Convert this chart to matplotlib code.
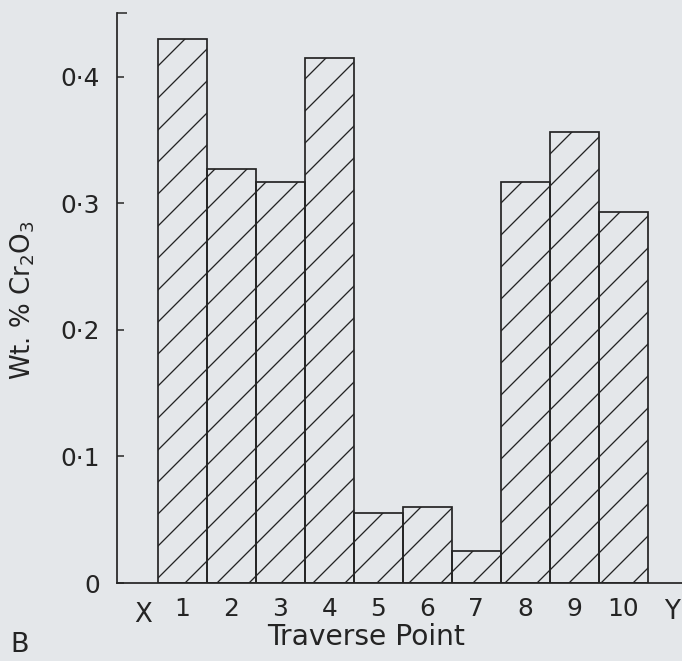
import matplotlib
matplotlib.use("Agg")
import matplotlib.pyplot as plt
from matplotlib.ticker import FixedLocator

# values (traverse X -> Y)
points = [1, 2, 3, 4, 5, 6, 7, 8, 9, 10]
cr2o3 = [0.430, 0.327, 0.317, 0.415, 0.055, 0.060, 0.025, 0.317, 0.356, 0.293]
ytick_vals = [0, 0.1, 0.2, 0.3, 0.4]
ytick_labels = ["0", "0·1", "0·2", "0·3", "0·4"]
end_labels = ["X", "Y"]
end_pos = [0.2, 11.0]

bg = "#e4e7ea"
ink = "#242424"

# dpi picked so the hatch spacing matches the scan; k rescales point sizes
DPI = 96
k = 156 / DPI
plt.rcParams["hatch.linewidth"] = 0.6 * k
plt.rcParams["hatch.color"] = ink
plt.rcParams["font.family"] = "DejaVu Sans"

fig = plt.figure(figsize=(682 / DPI, 661 / DPI), dpi=DPI, facecolor=bg)
ax = fig.add_axes([0.1716, 0.118, 1.0 - 0.1716, 0.980 - 0.118])
ax.set_facecolor(bg)

ax.bar(points, cr2o3, width=1.0, facecolor="none", edgecolor=ink,
       linewidth=0.8 * k, hatch="/")

ax.set_xlim(-0.33, 11.2)
ax.set_ylim(0, 0.45)

for s in ["top", "right"]:
    ax.spines[s].set_visible(False)
for s in ["left", "bottom"]:
    ax.spines[s].set_color(ink)
    ax.spines[s].set_linewidth(0.8 * k)

ax.set_yticks(ytick_vals)
ax.set_yticklabels(ytick_labels)
ax.yaxis.set_minor_locator(FixedLocator([0.45]))
ax.tick_params(axis="y", which="major", direction="in", length=3 * k,
               width=0.7 * k, color=ink, labelsize=11.5 * k, labelcolor=ink,
               pad=8 * k)
ax.tick_params(axis="y", which="minor", direction="in", length=4.5 * k,
               width=0.7 * k, color=ink)

ax.set_xticks(points)
ax.set_xticklabels([str(p) for p in points])
ax.tick_params(axis="x", length=0, labelsize=11.5 * k, labelcolor=ink,
               pad=6.5 * k)

# X and Y end markers sit a bit lower than the numbers
tr = ax.get_xaxis_transform()
ax.text(end_pos[0], -0.056, end_labels[0], transform=tr, ha="center",
        va="center", fontsize=12 * k, color=ink)
ax.text(end_pos[1], -0.051, end_labels[1], transform=tr, ha="center",
        va="center", fontsize=12 * k, color=ink)

fig.text(0.033, 0.546, "Wt. % Cr$_2$O$_3$", rotation=90, ha="center",
         va="center", fontsize=12 * k, color=ink)
fig.text(0.537, 0.036, "Traverse Point", ha="center", va="center",
         fontsize=13 * k, color=ink)
fig.text(0.029, 0.024, "B", ha="center", va="center", fontsize=12.5 * k,
         color=ink)

fig.savefig("out.png", dpi=DPI, facecolor=bg)
